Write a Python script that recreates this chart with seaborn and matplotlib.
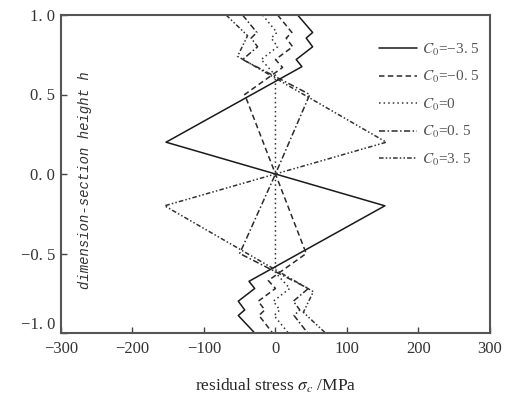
import matplotlib
matplotlib.use("Agg")
import matplotlib.pyplot as plt
import seaborn as sns
import pandas as pd

# ---- data ----
h_m35 = [1.0, 0.89, 0.855, 0.80, 0.72, 0.675, 0.2, 0.0, -0.2, -0.675, -0.72, -0.80, -0.855, -0.89, -1.0]
s_m35 = [31, 52, 43, 52, 29, 37, -153, 0, 153, -37, -29, -52, -43, -52, -29]

h_m05 = [1.0, 0.89, 0.855, 0.80, 0.72, 0.67, 0.5, 0.0, -0.5, -0.67, -0.72, -0.80, -0.855, -0.89, -1.0]
s_m05 = [3, 23, 15, 24, 0, 10, -43, 0, 43, -10, 0, -24, -15, -23, -4]

h_0 = [1.0, 0.89, 0.855, 0.80, 0.72, 0.62, -0.62, -0.72, -0.80, -0.855, -0.89, -1.0]
s_0 = [-18, 2, -6, 3, -20, 0, 0, 20, -3, 6, -2, 18]

h_p05 = [1.0, 0.89, 0.855, 0.80, 0.72, 0.5, 0.0, -0.5, -0.72, -0.80, -0.855, -0.89, -1.0]
s_p05 = [-46, -26, -34, -25, -46, 48, 0, -50, 46, 25, 34, 26, 45]

h_p35 = [1.0, 0.87, 0.74, 0.2, 0.0, -0.2, -0.74, -0.87, -1.0]
s_p35 = [-69, -39, -53, 155, 0, -155, 53, 39, 70]

labels = [r"$C_{\mathit{0}}$=−3. 5", r"$C_{\mathit{0}}$=−0. 5", r"$C_{\mathit{0}}$=0",
          r"$C_{\mathit{0}}$=0. 5", r"$C_{\mathit{0}}$=3. 5"]
x_ticks = [-300, -200, -100, 0, 100, 200, 300]
x_ticklabels = ["−300", "−200", "−100", "0", "100", "200", "300"]
y_ticks = [-1.0, -0.5, 0.0, 0.5, 1.0]
y_ticklabels = ["−1. 0", "−0. 5", "0. 0", "0. 5", "1. 0"]

series = [(s_m35, h_m35), (s_m05, h_m05), (s_0, h_0), (s_p05, h_p05), (s_p35, h_p35)]
styles = ["-", (0, (3.6, 2.2)), (0, (1, 2)), (0, (4, 1.6, 1, 1.6)), (0, (3, 1.4, 1, 1.4, 1, 1.4))]
colors = ["#1a1a1a", "#2a2a2a", "#333333", "#2a2a2a", "#333333"]

sns.set_style("ticks")
plt.rcParams["font.family"] = ["Liberation Serif", "DejaVu Serif"]
plt.rcParams["mathtext.fontset"] = "stix"

fig = plt.figure(figsize=(5.12, 4.0), dpi=100)
ax = fig.add_axes([0.119, 0.1675, 0.838, 0.795])

for (s, h), lab, ls, c in zip(series, labels, styles, colors):
    df = pd.DataFrame({"s": s, "h": h})
    sns.lineplot(data=df, x="s", y="h", sort=False, estimator=None, ax=ax,
                 color=c, linestyle=ls, linewidth=1.1, label=lab)

ax.set_xlim(-300, 300)
ax.set_ylim(-1.0, 1.0)
ax.set_xticks(x_ticks)
ax.set_xticklabels(x_ticklabels, fontsize=12, color="#333333")
ax.set_yticks(y_ticks)
ax.set_yticklabels(y_ticklabels, fontsize=12, color="#333333")
ax.tick_params(axis="both", direction="in", length=4, width=1, color="#444444",
               top=False, right=False)
ax.tick_params(axis="x", pad=6)
ax.tick_params(axis="y", pad=4)
for lbl in ax.get_yticklabels():
    if lbl.get_text() == "−1. 0":
        lbl.set_verticalalignment("bottom")
for sp in ax.spines.values():
    sp.set_visible(True)
    sp.set_color("#555555")
    sp.set_linewidth(1.5)

ax.set_xlabel(r"residual stress $\mathbf{\mathit{\sigma}}_{c}$ /MPa", fontsize=12.5, labelpad=14)
ax.set_ylabel("")
ax.text(0.055, 0.48, "dimension-section height h", transform=ax.transAxes,
        rotation=90, ha="center", va="center", fontsize=10,
        family=["Liberation Mono", "DejaVu Sans Mono"], style="italic", color="#333333")

leg = ax.legend(loc="upper right", bbox_to_anchor=(1.0, 0.95), frameon=False,
                fontsize=11, handlelength=2.5, labelspacing=0.75, handletextpad=0.3,
                borderaxespad=0.3)
for t in leg.get_texts():
    t.set_color("#555555")

fig.savefig("out.png", dpi=100)
